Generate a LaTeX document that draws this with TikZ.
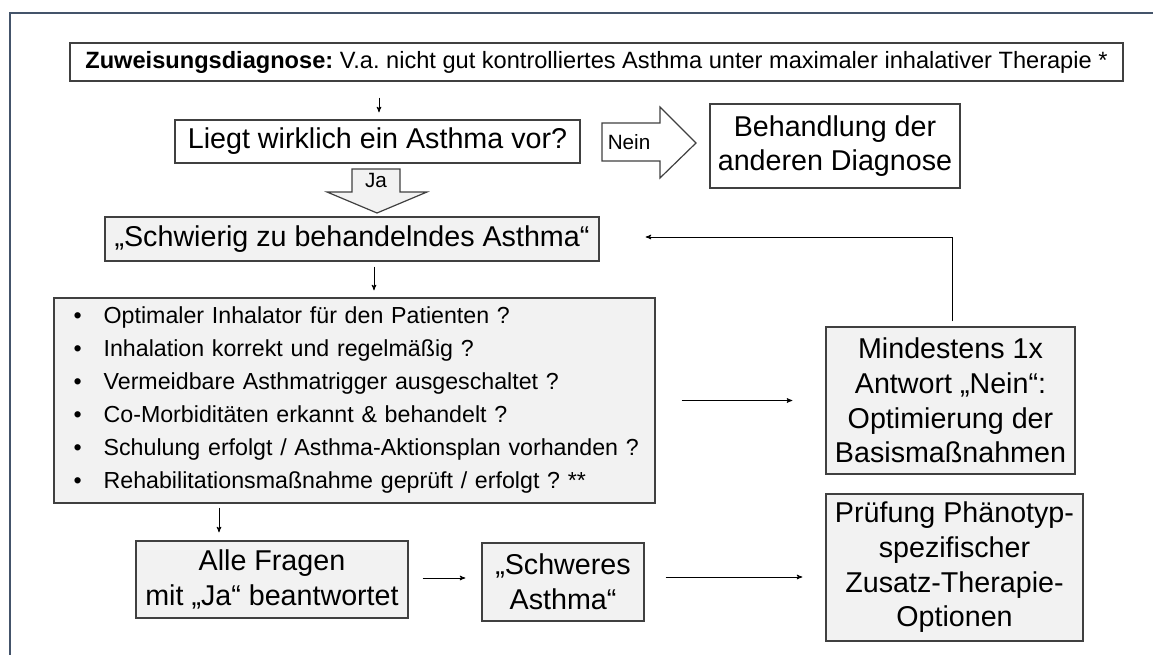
\documentclass[tikz,border=0pt]{standalone}
\usepackage{fontspec}
\setmainfont{Liberation Sans}
\usepackage{tikz}
\usetikzlibrary{positioning,arrows}

\definecolor{rahmen}{HTML}{44546A}
\definecolor{boxfill}{HTML}{F2F2F2}
\definecolor{boxline}{HTML}{404040}
\newcommand{\punkt}{\hspace*{9.75pt}\makebox[22.5pt][l]{\textbullet}}
\frenchspacing

\begin{document}
\begin{tikzpicture}[->,>=stealth',x=0.75pt,y=-0.75pt,semithick]
  \tikzstyle{kasten}=[draw=boxline,line width=0.9pt,inner sep=0pt,align=center,
                      font=\fontsize{21.5}{26}\selectfont]
  \tikzstyle{grau}=[kasten,fill=boxfill]
  \tikzstyle{klein}=[inner sep=0pt,font=\fontsize{15.5}{18}\selectfont]
  \tikzstyle{pfeil}=[draw=boxline,line width=0.9pt]

  \useasboundingbox (0,0) rectangle (1153,655);
  \draw[-,rahmen,line width=1.5pt] (10,655) -- (10,13) -- (1153,13);

  \node[kasten,minimum width=789.75pt,minimum height=28.5pt,
        font=\fontsize{17.7}{21}\selectfont] (zuweisung) at (596.5,62)
        {\textbf{Zuweisungsdiagnose:} V.a. nicht gut kontrolliertes Asthma unter maximaler inhalativer Therapie *};
  \node[kasten,minimum width=303.75pt,minimum height=32.25pt] (liegt) at (377.5,141.5)
        {Liegt wirklich ein Asthma vor?};
  \node[kasten,minimum width=187.5pt,minimum height=63pt] (andere) at (835,146)
        {Behandlung der\\anderen Diagnose};
  \node[grau,minimum width=370.5pt,minimum height=33pt] (schwierig) at (352,239)
        {„Schwierig zu behandelndes Asthma“};
  \node[grau,minimum width=450.75pt,minimum height=153.75pt,align=left,
        text width=440.75pt,inner xsep=5pt,
        font=\fontsize{17.4}{24.75}\selectfont] (fragen) at (354.5,400.5)
        {\punkt Optimaler Inhalator für den Patienten ?\\
         \punkt Inhalation korrekt und regelmäßig ?\\
         \punkt Vermeidbare Asthmatrigger ausgeschaltet ?\\
         \punkt Co-Morbiditäten erkannt \& behandelt ?\\
         \punkt Schulung erfolgt / Asthma-Aktionsplan vorhanden ?\\
         \punkt Rehabilitationsmaßnahme geprüft / erfolgt ? **};
  \node[grau,minimum width=186.75pt,minimum height=110.25pt] (mindestens) at (950.5,400.5)
        {Mindestens 1x\\Antwort „Nein“:\\Optimierung der\\Basismaßnahmen};
  \node[grau,minimum width=204pt,minimum height=57.75pt] (alle) at (272,579.5)
        {Alle Fragen\\mit „Ja“ beantwortet};
  \node[grau,minimum width=121.5pt,minimum height=58.5pt] (schwer) at (563,582)
        {„Schweres\\Asthma“};
  \node[grau,minimum width=192.75pt,minimum height=110.25pt] (pruefung) at (954.5,567.5)
        {Prüfung Phänotyp-\\spezifischer\\Zusatz-Therapie-\\Optionen};

  % Blockpfeile
  \draw[-,pfeil,fill=white] (602,123) -- (660,123) -- (660,107) -- (696,143)
        -- (660,178) -- (660,161) -- (602,161) -- cycle;
  \node[klein] (nein) at (629,142) {Nein};
  \draw[-,pfeil,fill=boxfill] (352,169) -- (400,169) -- (400,192) -- (427,192)
        -- (377,213) -- (327,192) -- (352,192) -- cycle;
  \node[klein] (ja) at (376,180) {Ja};

  \draw ([shift={(-217.5,16)}]zuweisung.south) -- ([shift={(1.5,-7)}]liegt.north);
  \draw ([shift={(22,5)}]schwierig.south) -- ([shift={(19.5,-7)}]fragen.north);
  \draw ([shift={(26,0)}]fragen.east) -- ([shift={(-33,0)}]mindestens.west);
  \draw ([shift={(1.5,-5)}]mindestens.north) |- ([shift={(46,-2)}]schwierig.east);
  \draw ([shift={(-135.5,4)}]fragen.south) -- ([shift={(-53,-8)}]alle.north);
  \draw ([shift={(14,-1.5)}]alle.east) -- ([shift={(-16,-4)}]schwer.west);
  \draw ([shift={(21,-5)}]schwer.east) -- ([shift={(-23,9.5)}]pruefung.west);
\end{tikzpicture}
\end{document}
